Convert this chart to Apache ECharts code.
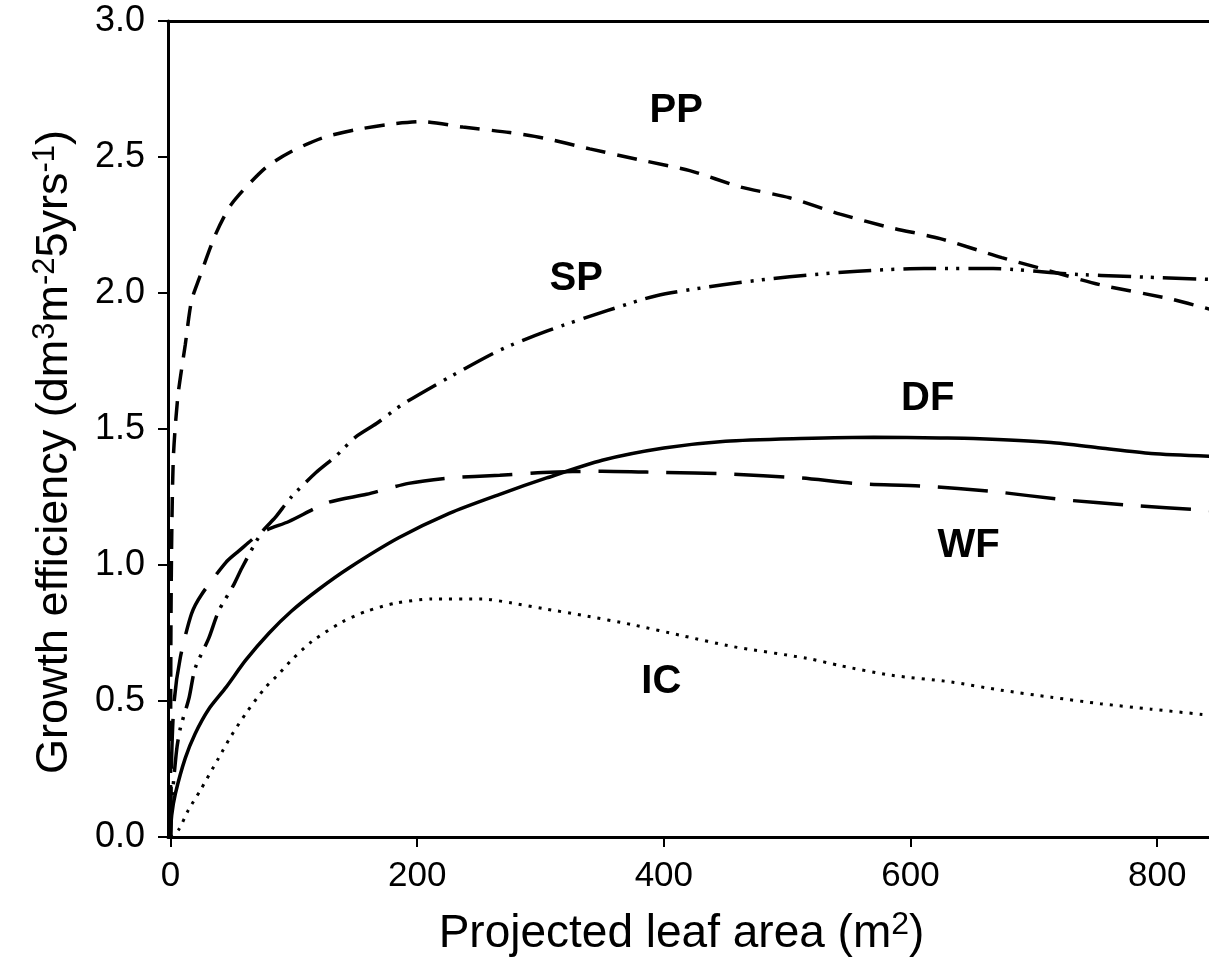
<!DOCTYPE html>
<html>
<head>
<meta charset="utf-8">
<script src="https://cdn.jsdelivr.net/npm/echarts@6/dist/echarts.min.js"></script>
<style>html,body{margin:0;padding:0;background:#fff}#c{width:1209px;height:969px}</style>
</head>
<body>
<div id="c"></div>
<script>
// ---- data (x = projected leaf area m2, y = growth efficiency) ----
var xTicks = [0, 200, 400, 600, 800];
var yTicks = [0, 0.5, 1.0, 1.5, 2.0, 2.5, 3.0];

var ppData = [[0,0],[0.3,0.7],[1,1.1],[2.4,1.40],[6,1.62],[12,1.81],[17,1.97],[23,2.05],[37,2.22],[50,2.33],[77,2.46],[98,2.52],[123,2.57],[150,2.60],[177,2.62],[204,2.63],[237,2.61],[275,2.59],[302,2.57],[340,2.53],[380,2.49],[421,2.45],[462,2.39],[502,2.35],[543,2.29],[584,2.24],[624,2.20],[674,2.13],[706,2.09],[754,2.03],[809,1.98],[843,1.94]];
var spData = [[0,0],[1,0.12],[5,0.32],[8,0.40],[15,0.51],[20,0.62],[31,0.73],[39,0.83],[51,0.925],[58,0.99],[74,1.12],[85,1.175],[98,1.25],[118,1.34],[134,1.40],[150,1.47],[167,1.52],[188,1.59],[226,1.69],[267,1.79],[305,1.86],[354,1.935],[394,1.99],[448,2.03],[502,2.06],[557,2.08],[611,2.09],[667,2.09],[728,2.07],[781,2.06],[843,2.05]];
var wfData = [[0,0],[1,0.3],[3,0.5],[8,0.66],[17,0.82],[25,0.89],[45,1.01],[55,1.05],[74,1.12],[96,1.16],[128,1.23],[159,1.26],[193,1.30],[226,1.32],[267,1.33],[302,1.34],[350,1.345],[400,1.34],[450,1.335],[511,1.32],[555,1.30],[610,1.29],[667,1.27],[724,1.24],[777,1.22],[843,1.20]];
var dfData = [[0,0],[1,0.08],[4,0.16],[12,0.29],[20,0.38],[31,0.47],[45,0.55],[61,0.65],[80,0.75],[98,0.83],[120,0.91],[145,0.99],[185,1.10],[226,1.19],[267,1.26],[305,1.32],[350,1.385],[400,1.43],[450,1.455],[511,1.465],[570,1.47],[624,1.467],[651,1.465],[714,1.45],[754,1.43],[795,1.41],[843,1.40]];
var icData = [[0,0],[6.5,0.026],[14.6,0.10],[24,0.17],[39,0.29],[49,0.37],[62,0.46],[77,0.55],[88,0.60],[98,0.65],[115,0.72],[139,0.79],[159,0.83],[183,0.86],[212,0.875],[253,0.875],[277,0.86],[302,0.84],[334,0.815],[375,0.78],[415,0.74],[456,0.70],[516,0.657],[543,0.63],[584,0.595],[633,0.57],[673,0.54],[714,0.514],[754,0.49],[795,0.47],[838,0.45]];

var labelNames = ['PP', 'SP', 'DF', 'WF', 'IC'];
var labelX = [410, 329, 614, 647, 398];
var labelY = [2.67, 2.05, 1.61, 1.07, 0.57];

var xTitle = '{t|Projected leaf area (m}{s|2}{t|)}';
var yTitle = '{t|Growth efficiency (dm}{s|3}{t|m}{s|-2}{t|5yrs}{s|-1}{t|)}';

// ---- chart ----
var FONT = '"Liberation Sans", Arial, Helvetica, sans-serif';
var chart = echarts.init(document.getElementById('c'), null, {renderer: 'canvas'});

function lineSeries(name, data, dash, width) {
  return {
    name: name, type: 'line', data: data, showSymbol: false, smooth: 0.25,
    lineStyle: {color: '#000', width: width, type: dash, cap: 'butt'},
    z: 3
  };
}

var labelData = labelNames.map(function (n, i) { return [labelX[i], labelY[i], n]; });

chart.setOption({
  animation: false,
  backgroundColor: '#fff',
  grid: {left: 168, right: 0, top: 21, bottom: 132, containLabel: false},
  xAxis: [{
    type: 'value', min: -2, max: 842, position: 'bottom',
    axisLine: {show: true, onZero: false, lineStyle: {color: '#000', width: 3}},
    axisTick: {show: true, inside: false, length: 10, customValues: xTicks, lineStyle: {color: '#000', width: 2}},
    axisLabel: {customValues: xTicks, fontSize: 35, color: '#000', fontFamily: FONT, margin: 22},
    splitLine: {show: false},
    name: xTitle, nameLocation: 'middle', nameGap: 72,
    nameTextStyle: {color: '#000', padding: [0, 14, 0, 0], rich: {
      t: {fontSize: 46, fontFamily: FONT, color: '#000', lineHeight: 50},
      s: {fontSize: 32, fontFamily: FONT, color: '#000', verticalAlign: 'top', lineHeight: 30}
    }}
  }, {
    type: 'value', min: -2, max: 842, position: 'top',
    axisLine: {show: true, onZero: false, lineStyle: {color: '#000', width: 3}},
    axisTick: {show: false}, axisLabel: {show: false}, splitLine: {show: false}
  }],
  yAxis: {
    type: 'value', min: 0, max: 3, interval: 0.5,
    axisLine: {show: true, onZero: false, lineStyle: {color: '#000', width: 3}},
    axisTick: {show: true, inside: false, length: 10, lineStyle: {color: '#000', width: 2}},
    axisLabel: {fontSize: 36, color: '#000', fontFamily: FONT, margin: 23,
      formatter: function (v) { return v.toFixed(1); }},
    splitLine: {show: false},
    name: yTitle, nameLocation: 'middle', nameGap: 88, nameRotate: 90,
    nameTextStyle: {color: '#000', padding: [0, 46, 0, 0], rich: {
      t: {fontSize: 45, fontFamily: FONT, color: '#000', lineHeight: 50},
      s: {fontSize: 31, fontFamily: FONT, color: '#000', verticalAlign: 'top', lineHeight: 30}
    }}
  },
  series: [
    lineSeries('PP', ppData, [20, 12], 3.5),
    lineSeries('SP', spData, [33, 9, 3, 8, 3, 9], 3.5),
    lineSeries('WF', wfData, [50, 18], 3.5),
    lineSeries('DF', dfData, 'solid', 3.5),
    lineSeries('IC', icData, [3, 7], 3),
    {
      type: 'scatter', data: labelData, symbolSize: 0,
      itemStyle: {color: '#000', opacity: 1},
      label: {show: true, position: 'inside', formatter: function (p) { return p.data[2]; },
        fontSize: 40, fontWeight: 'bold', color: '#000', opacity: 1, textBorderWidth: 0, fontFamily: FONT},
      z: 5
    }
  ]
});
</script>
</body>
</html>
